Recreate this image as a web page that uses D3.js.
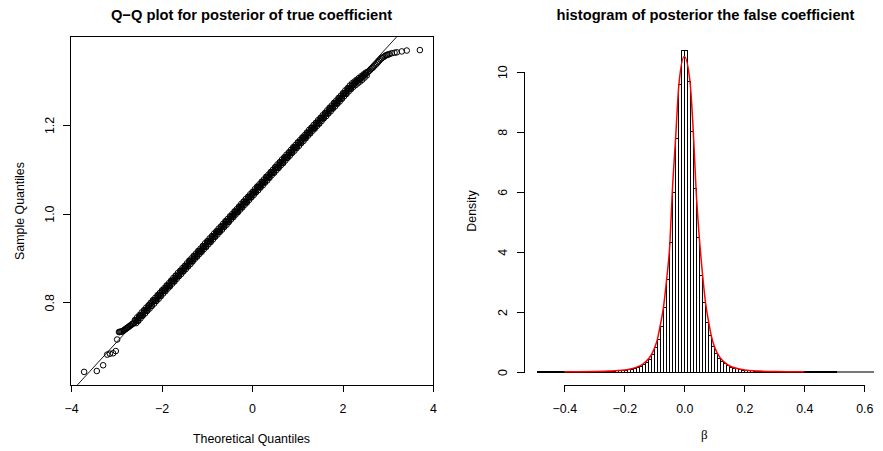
<!DOCTYPE html>
<html>
<head>
<meta charset="utf-8">
<script src="https://cdn.jsdelivr.net/npm/d3@7"></script>
<style>
  body { margin: 0; background: #fff; }
  svg { display: block; font-family: "Liberation Sans", Arial, Helvetica, sans-serif; }
</style>
</head>
<body>
<svg id="chart" width="883" height="451"></svg>
<script>
// ---- Q-Q plot data (theoretical vs sample quantiles) ----
var qqTheoretical = [
  -3.71, -3.43, -3.29, -3.20, -3.14, -3.07, -3.01, -2.98, -2.92, -2.88, -2.84, -2.80, -2.76, -2.72, -2.68, -2.64,
  -2.60, -2.55, -2.50, -2.45, -2.40, -2.35, -2.30, -2.25, -2.20, -2.15, -2.10, -2.05, -2.00, -1.95, -1.90, -1.85,
  -1.80, -1.75, -1.70, -1.65, -1.60, -1.55, -1.50, -1.45, -1.40, -1.35, -1.30, -1.25, -1.20, -1.15, -1.10, -1.05,
  -1.00, -0.95, -0.90, -0.85, -0.80, -0.75, -0.70, -0.65, -0.60, -0.55, -0.50, -0.45, -0.40, -0.35, -0.30, -0.25,
  -0.20, -0.15, -0.10, -0.05, 0.00, 0.05, 0.10, 0.15, 0.20, 0.25, 0.30, 0.35, 0.40, 0.45, 0.50, 0.55,
  0.60, 0.65, 0.70, 0.75, 0.80, 0.85, 0.90, 0.95, 1.00, 1.05, 1.10, 1.15, 1.20, 1.25, 1.30, 1.35,
  1.40, 1.45, 1.50, 1.55, 1.60, 1.65, 1.70, 1.75, 1.80, 1.85, 1.90, 1.95, 2.00, 2.05, 2.10, 2.15,
  2.20, 2.25, 2.30, 2.35, 2.40, 2.45, 2.50, 2.55, 2.60, 2.65, 2.70, 2.76, 2.81, 2.87, 2.93, 2.98,
  3.04, 3.09, 3.15, 3.20, 3.31, 3.42, 3.71
];
var qqSample = [
  0.643, 0.645, 0.658, 0.682, 0.684, 0.685, 0.690, 0.716, 0.733, 0.734, 0.736, 0.739, 0.742, 0.745, 0.748, 0.751,
  0.754, 0.759, 0.765, 0.770, 0.776, 0.781, 0.787, 0.795, 0.800, 0.804, 0.809, 0.816, 0.822, 0.826, 0.832, 0.837,
  0.843, 0.848, 0.854, 0.859, 0.865, 0.870, 0.876, 0.882, 0.887, 0.893, 0.898, 0.904, 0.909, 0.915, 0.921, 0.926,
  0.932, 0.937, 0.943, 0.948, 0.954, 0.960, 0.965, 0.971, 0.976, 0.982, 0.987, 0.993, 0.998, 1.004, 1.010, 1.015,
  1.021, 1.026, 1.032, 1.037, 1.043, 1.049, 1.054, 1.060, 1.065, 1.071, 1.076, 1.082, 1.088, 1.093, 1.099, 1.104,
  1.110, 1.115, 1.121, 1.126, 1.132, 1.138, 1.143, 1.149, 1.154, 1.160, 1.165, 1.171, 1.177, 1.182, 1.188, 1.193,
  1.199, 1.204, 1.210, 1.216, 1.221, 1.227, 1.232, 1.238, 1.243, 1.249, 1.254, 1.260, 1.266, 1.271, 1.277, 1.282,
  1.288, 1.292, 1.297, 1.301, 1.305, 1.309, 1.314, 1.319, 1.323, 1.328, 1.333, 1.339, 1.345, 1.351, 1.355, 1.358,
  1.360, 1.362, 1.363, 1.364, 1.366, 1.368, 1.369
];
// the in-between order statistics that make up the dense band
var qqTheoreticalB = [
  -2.94, -2.90, -2.86, -2.82, -2.78, -2.74, -2.70, -2.66, -2.62,
  -2.575, -2.525, -2.475, -2.425, -2.375, -2.325, -2.275, -2.225, -2.175, -2.125, -2.075, -2.025,
  -1.975, -1.925, -1.875, -1.825, -1.775, -1.725, -1.675, -1.625, -1.575, -1.525,
  -1.475, -1.425, -1.375, -1.325, -1.275, -1.225, -1.175, -1.125, -1.075, -1.025,
  -0.975, -0.925, -0.875, -0.825, -0.775, -0.725, -0.675, -0.625, -0.575, -0.525,
  -0.475, -0.425, -0.375, -0.325, -0.275, -0.225, -0.175, -0.125, -0.075, -0.025,
  0.025, 0.075, 0.125, 0.175, 0.225, 0.275, 0.325, 0.375, 0.425, 0.475,
  0.525, 0.575, 0.625, 0.675, 0.725, 0.775, 0.825, 0.875, 0.925, 0.975,
  1.025, 1.075, 1.125, 1.175, 1.225, 1.275, 1.325, 1.375, 1.425, 1.475,
  1.525, 1.575, 1.625, 1.675, 1.725, 1.775, 1.825, 1.875, 1.925, 1.975,
  2.025, 2.075, 2.125, 2.175, 2.225, 2.275, 2.325, 2.375, 2.425,
  2.475, 2.525, 2.575, 2.625, 2.675, 2.73, 2.785, 2.84, 2.90, 2.955, 3.01
];
var qqSampleB = [
  0.733, 0.734, 0.735, 0.738, 0.741, 0.744, 0.747, 0.750, 0.753,
  0.759, 0.759, 0.770, 0.770, 0.782, 0.781, 0.793, 0.792, 0.804, 0.803, 0.815, 0.815,
  0.826, 0.826, 0.837, 0.837, 0.848, 0.848, 0.860, 0.859, 0.871, 0.870,
  0.882, 0.881, 0.893, 0.893, 0.904, 0.904, 0.915, 0.915, 0.926, 0.926,
  0.938, 0.937, 0.949, 0.948, 0.960, 0.959, 0.971, 0.970, 0.982, 0.982,
  0.993, 0.993, 1.004, 1.004, 1.015, 1.015, 1.027, 1.026, 1.038, 1.037,
  1.049, 1.048, 1.060, 1.060, 1.071, 1.071, 1.082, 1.082, 1.093, 1.093,
  1.105, 1.104, 1.116, 1.115, 1.127, 1.126, 1.138, 1.137, 1.149, 1.149,
  1.160, 1.160, 1.171, 1.171, 1.182, 1.182, 1.193, 1.193, 1.205, 1.204,
  1.216, 1.215, 1.227, 1.226, 1.238, 1.238, 1.249, 1.249, 1.260, 1.260,
  1.271, 1.271, 1.282, 1.282, 1.290, 1.294, 1.299, 1.302, 1.307,
  1.312, 1.316, 1.321, 1.326, 1.330, 1.336, 1.342, 1.348, 1.353, 1.357, 1.359
];
var qqTheoreticalC = [
  -2.5875, -2.5375, -2.4875, -2.4375, -2.3875, -2.3375, -2.2875, -2.2375, -2.1875, -2.1375,
  -2.0875, -2.0375, -1.9875, -1.9375, -1.8875, -1.8375, -1.7875, -1.7375, -1.6875, -1.6375,
  -1.5875, -1.5375, -1.4875, -1.4375, -1.3875, -1.3375, -1.2875, -1.2375, -1.1875, -1.1375,
  -1.0875, -1.0375, -0.9875, -0.9375, -0.8875, -0.8375, -0.7875, -0.7375, -0.6875, -0.6375,
  -0.5875, -0.5375, -0.4875, -0.4375, -0.3875, -0.3375, -0.2875, -0.2375, -0.1875, -0.1375,
  -0.0875, -0.0375, 0.0125, 0.0625, 0.1125, 0.1625, 0.2125, 0.2625, 0.3125, 0.3625,
  0.4125, 0.4625, 0.5125, 0.5625, 0.6125, 0.6625, 0.7125, 0.7625, 0.8125, 0.8625,
  0.9125, 0.9625, 1.0125, 1.0625, 1.1125, 1.1625, 1.2125, 1.2625, 1.3125, 1.3625,
  1.4125, 1.4625, 1.5125, 1.5625, 1.6125, 1.6625, 1.7125, 1.7625, 1.8125, 1.8625,
  1.9125, 1.9625, 2.0125, 2.0625, 2.1125, 2.1625, 2.2125, 2.2625, 2.3125, 2.3625, 2.4125,
  2.4625, 2.5125
];
var qqSampleC = [
  0.760, 0.766, 0.771, 0.777, 0.782, 0.788, 0.793, 0.799, 0.805, 0.810,
  0.816, 0.821, 0.827, 0.832, 0.838, 0.843, 0.849, 0.855, 0.860, 0.866,
  0.871, 0.877, 0.882, 0.888, 0.894, 0.899, 0.905, 0.910, 0.916, 0.921,
  0.927, 0.933, 0.938, 0.944, 0.949, 0.955, 0.960, 0.966, 0.971, 0.977,
  0.983, 0.988, 0.994, 0.999, 1.005, 1.010, 1.016, 1.022, 1.027, 1.033,
  1.038, 1.044, 1.049, 1.055, 1.061, 1.066, 1.072, 1.077, 1.083, 1.088,
  1.094, 1.099, 1.105, 1.111, 1.116, 1.122, 1.127, 1.133, 1.138, 1.144,
  1.150, 1.155, 1.161, 1.166, 1.172, 1.177, 1.183, 1.189, 1.194, 1.200,
  1.205, 1.211, 1.216, 1.222, 1.227, 1.233, 1.239, 1.244, 1.250, 1.255,
  1.261, 1.266, 1.272, 1.278, 1.283, 1.289, 1.294, 1.298, 1.302, 1.306, 1.310,
  1.314, 1.318
];
var qqTheoreticalD = [
  -2.5625, -2.5125, -2.4625, -2.4125, -2.3625, -2.3125, -2.2625, -2.2125, -2.1625, -2.1125,
  -2.0625, -2.0125, -1.9625, -1.9125, -1.8625, -1.8125, -1.7625, -1.7125, -1.6625, -1.6125,
  -1.5625, -1.5125, -1.4625, -1.4125, -1.3625, -1.3125, -1.2625, -1.2125, -1.1625, -1.1125,
  -1.0625, -1.0125, -0.9625, -0.9125, -0.8625, -0.8125, -0.7625, -0.7125, -0.6625, -0.6125,
  -0.5625, -0.5125, -0.4625, -0.4125, -0.3625, -0.3125, -0.2625, -0.2125, -0.1625, -0.1125,
  -0.0625, -0.0125, 0.0375, 0.0875, 0.1375, 0.1875, 0.2375, 0.2875, 0.3375, 0.3875,
  0.4375, 0.4875, 0.5375, 0.5875, 0.6375, 0.6875, 0.7375, 0.7875, 0.8375, 0.8875,
  0.9375, 0.9875, 1.0375, 1.0875, 1.1375, 1.1875, 1.2375, 1.2875, 1.3375, 1.3875,
  1.4375, 1.4875, 1.5375, 1.5875, 1.6375, 1.6875, 1.7375, 1.7875, 1.8375, 1.8875,
  1.9375, 1.9875, 2.0375, 2.0875, 2.1375, 2.1875, 2.2375, 2.2875, 2.3375, 2.3875, 2.4375,
  2.4875, 2.5375
];
var qqSampleD = [
  0.753, 0.758, 0.764, 0.770, 0.775, 0.781, 0.786, 0.792, 0.797, 0.803,
  0.808, 0.814, 0.820, 0.825, 0.831, 0.836, 0.842, 0.847, 0.853, 0.859,
  0.864, 0.870, 0.875, 0.881, 0.886, 0.892, 0.898, 0.903, 0.909, 0.914,
  0.920, 0.925, 0.931, 0.936, 0.942, 0.948, 0.953, 0.959, 0.964, 0.970,
  0.975, 0.981, 0.987, 0.992, 0.998, 1.003, 1.009, 1.014, 1.020, 1.025,
  1.031, 1.037, 1.042, 1.048, 1.053, 1.059, 1.064, 1.070, 1.075, 1.081,
  1.087, 1.092, 1.098, 1.103, 1.109, 1.114, 1.120, 1.126, 1.131, 1.137,
  1.142, 1.148, 1.153, 1.159, 1.164, 1.170, 1.176, 1.181, 1.187, 1.192,
  1.198, 1.203, 1.209, 1.215, 1.220, 1.226, 1.231, 1.237, 1.242, 1.248,
  1.253, 1.259, 1.265, 1.270, 1.276, 1.281, 1.286, 1.290, 1.294, 1.298, 1.302,
  1.307, 1.312
];
var qqLineIntercept = 1.043,
  qqLineSlope = 0.1113;
var qqXTicks = [-4, -2, 0, 2, 4],
  qqYTicks = [0.8, 1.0, 1.2];

// ---- histogram of the false coefficient (density per 0.01 bin starting at -0.49) ----
var histFirstBreak = -0.49,
  histBinWidth = 0.01;
var histDensity = [
  0.001, 0.001, 0.001, 0.001, 0.002, 0.002, 0.002, 0.002, 0.003, 0.003,
  0.004, 0.004, 0.005, 0.005, 0.006, 0.007, 0.008, 0.009, 0.010, 0.011,
  0.013, 0.015, 0.018, 0.021, 0.025, 0.030, 0.035, 0.042, 0.050, 0.060,
  0.075, 0.095, 0.120, 0.150, 0.190, 0.250, 0.330, 0.430, 0.580, 0.800,
  1.090, 1.530, 2.160, 3.090, 4.320, 5.990, 7.790, 9.570, 10.720, 10.720,
  9.660, 8.010, 6.120, 4.490, 3.230, 2.320, 1.660, 1.200, 0.860, 0.620,
  0.460, 0.350, 0.270, 0.210, 0.160, 0.125, 0.100, 0.080, 0.065, 0.053,
  0.044, 0.037, 0.031, 0.026, 0.022, 0.019, 0.016, 0.014, 0.012, 0.010,
  0.009, 0.008, 0.007, 0.006, 0.005, 0.005, 0.004, 0.004, 0.003, 0.003,
  0.003, 0.002, 0.002, 0.002, 0.002, 0.001, 0.001, 0.001, 0.001, 0.001,
  0.0005, 0.0005, 0.0005, 0.0005, 0.0005, 0.0005, 0.0005, 0.0005, 0.0005, 0.0005, 0.0005, 0.0005
];
// fitted density curve (red)
var curveBeta = [
  -0.40, -0.35, -0.30, -0.25, -0.20, -0.18, -0.16, -0.14, -0.12, -0.11, -0.10, -0.09,
  -0.081, -0.070, -0.059, -0.048, -0.040, -0.029, -0.018, 0, 0.019, 0.030, 0.039, 0.050,
  0.061, 0.071, 0.082, 0.09, 0.10, 0.11, 0.12, 0.14, 0.16, 0.18, 0.20, 0.25, 0.30, 0.35, 0.40
];
var curveDensity = [
  0.005, 0.008, 0.015, 0.030, 0.068, 0.100, 0.155, 0.250, 0.430, 0.570, 0.780, 1.080,
  1.510, 2.120, 3.070, 4.290, 6.000, 7.780, 9.570, 10.510, 9.670, 8.000, 6.120, 4.480,
  3.230, 2.290, 1.620, 1.200, 0.860, 0.630, 0.470, 0.270, 0.165, 0.105, 0.070, 0.031, 0.016, 0.009, 0.005
];
var histXTicks = [-0.4, -0.2, 0.0, 0.2, 0.4, 0.6],
  histYTicks = [0, 2, 4, 6, 8, 10];

var tickFont = 12.4,
  titleFont = 14.7;

var svg = d3.select("#chart");
svg.append("rect").attr("width", 883).attr("height", 451).attr("fill", "#fff");

function style_axis(g) {
  g.selectAll("path.domain").attr("stroke", "#000").attr("stroke-width", 1);
  g.selectAll(".tick line").attr("stroke", "#000").attr("stroke-width", 1);
  g.selectAll(".tick text")
    .attr("fill", "#000")
    .style("font-size", tickFont + "px")
    .style("font-family", "'Liberation Sans', Arial, sans-serif");
  g.attr("shape-rendering", "crispEdges");
}

function pairs(ts, ss) {
  return ts.map(function(t, i) {
    return { t: t, s: ss[i] };
  });
}

// ================= left: Q-Q plot =================
function draw_qq() {
  var x = d3.scaleLinear().domain([-4, 4]).range([71, 433]),
    y = d3.scaleLinear().domain([0.8, 1.2]).range([302.3, 125]);

  var left = 70, top = 37, right = 433, bottom = 385;

  svg.append("clipPath").attr("id", "qqclip")
    .append("rect")
    .attr("x", left).attr("y", top)
    .attr("width", right - left).attr("height", bottom - top);

  var plot = svg.append("g").attr("clip-path", "url(#qqclip)");

  // reference line
  plot.append("line")
    .attr("x1", x(-4.5)).attr("y1", y(qqLineIntercept + qqLineSlope * -4.5))
    .attr("x2", x(4.5)).attr("y2", y(qqLineIntercept + qqLineSlope * 4.5))
    .attr("stroke", "#000").attr("stroke-width", 0.9);

  var pts = pairs(qqTheoretical, qqSample)
    .concat(pairs(qqTheoreticalB, qqSampleB))
    .concat(pairs(qqTheoreticalC, qqSampleC))
    .concat(pairs(qqTheoreticalD, qqSampleD));

  plot.selectAll("circle.qq")
    .data(pts)
    .enter()
    .append("circle")
    .attr("class", "qq")
    .attr("cx", function(d) { return x(d.t); })
    .attr("cy", function(d) { return y(d.s); })
    .attr("r", 2.8)
    .attr("fill", "none")
    .attr("stroke", "#000")
    .attr("stroke-width", 1);

  // box
  svg.append("rect")
    .attr("x", left + 0.5).attr("y", top - 0.5)
    .attr("width", right - left).attr("height", bottom - top + 0.5)
    .attr("fill", "none").attr("stroke", "#000").attr("stroke-width", 1)
    .attr("shape-rendering", "crispEdges");

  svg.append("g")
    .attr("transform", "translate(0," + bottom + ")")
    .call(d3.axisBottom(x).tickValues(qqXTicks).tickSize(7).tickSizeOuter(0))
    .call(style_axis)
    .call(function(g) {
      g.select("path.domain").remove();
      g.selectAll(".tick text").attr("y", 28).attr("dy", null);
    });

  svg.append("g")
    .attr("transform", "translate(" + left + ",0)")
    .call(d3.axisLeft(y).tickValues(qqYTicks).tickFormat(d3.format(".1f")).tickSize(7).tickSizeOuter(0))
    .call(style_axis)
    .call(function(g) {
      g.select("path.domain").remove();
      g.selectAll(".tick text")
        .attr("x", null).attr("dy", null)
        .attr("text-anchor", "middle")
        .attr("transform", "translate(-16.5,0) rotate(-90)");
    });

  svg.append("text")
    .attr("x", (left + right) / 2).attr("y", 19.5)
    .attr("text-anchor", "middle")
    .style("font-weight", "bold").style("font-size", titleFont + "px")
    .text("Q\u2212Q plot for posterior of true coefficient");

  svg.append("text")
    .attr("x", (left + right) / 2).attr("y", 442.5)
    .attr("text-anchor", "middle")
    .style("font-size", tickFont + "px")
    .text("Theoretical Quantiles");

  svg.append("text")
    .attr("text-anchor", "middle")
    .attr("transform", "translate(24," + (top + bottom) / 2 + ") rotate(-90)")
    .style("font-size", tickFont + "px")
    .text("Sample Quantiles");
}

// ================= right: histogram =================
function draw_hist() {
  var x = d3.scaleLinear().domain([-0.4, 0.6]).range([564.3, 864.3]),
    y = d3.scaleLinear().domain([0, 10]).range([372, 71.7]);

  var left = 524, top = 37, right = 887, bottom = 385;

  var bins = histDensity.map(function(v, i) {
    var x0 = histFirstBreak + i * histBinWidth;
    return { x0: x0, x1: x0 + histBinWidth, v: v };
  });

  // R's hist draws each bin as an outlined rectangle
  svg.append("g")
    .attr("shape-rendering", "crispEdges")
    .selectAll("path.bar")
    .data(bins)
    .enter()
    .append("path")
    .attr("class", "bar")
    .attr("d", function(d) {
      var xa = x(d.x0), xb = x(d.x1), y0 = y(0), y1 = y(d.v);
      return "M" + xa + "," + y0 + "V" + y1 + "H" + xb + "V" + y0 + "Z";
    })
    .attr("fill", "none")
    .attr("stroke", function(d) { return d.v < 0.001 ? "#777" : "#000"; })
    .attr("stroke-width", 1);

  var line = d3.line()
    .x(function(d) { return x(d[0]); })
    .y(function(d) { return y(d[1]); })
    .curve(d3.curveMonotoneX);

  svg.append("path")
    .datum(curveBeta.map(function(b, i) { return [b, curveDensity[i]]; }))
    .attr("d", line)
    .attr("fill", "none")
    .attr("stroke", "#ff0000")
    .attr("stroke-width", 1.5)
    .attr("stroke-linejoin", "round");

  svg.append("g")
    .attr("transform", "translate(0," + bottom + ")")
    .call(d3.axisBottom(x).tickValues(histXTicks).tickFormat(d3.format(".1f")).tickSize(7).tickSizeOuter(0))
    .call(style_axis)
    .call(function(g) {
      g.selectAll(".tick text").attr("y", 27.5).attr("dy", null);
    });

  svg.append("g")
    .attr("transform", "translate(" + left + ",0)")
    .call(d3.axisLeft(y).tickValues(histYTicks).tickSize(7).tickSizeOuter(0))
    .call(style_axis)
    .call(function(g) {
      g.selectAll(".tick text")
        .attr("x", null).attr("dy", null)
        .attr("text-anchor", "middle")
        .attr("transform", "translate(-17,0) rotate(-90)");
    });

  svg.append("text")
    .attr("x", (left + right) / 2).attr("y", 20)
    .attr("text-anchor", "middle")
    .style("font-weight", "bold").style("font-size", titleFont + "px")
    .text("histogram of posterior the false coefficient");

  svg.append("text")
    .attr("x", x(0.067)).attr("y", 439)
    .attr("text-anchor", "middle")
    .style("font-family", "'Liberation Serif', 'DejaVu Serif', serif")
    .style("font-size", "13px")
    .text("\u03b2");

  svg.append("text")
    .attr("text-anchor", "middle")
    .attr("transform", "translate(476," + (top + bottom) / 2 + ") rotate(-90)")
    .style("font-size", tickFont + "px")
    .text("Density");
}

draw_qq();
draw_hist();
</script>
</body>
</html>
